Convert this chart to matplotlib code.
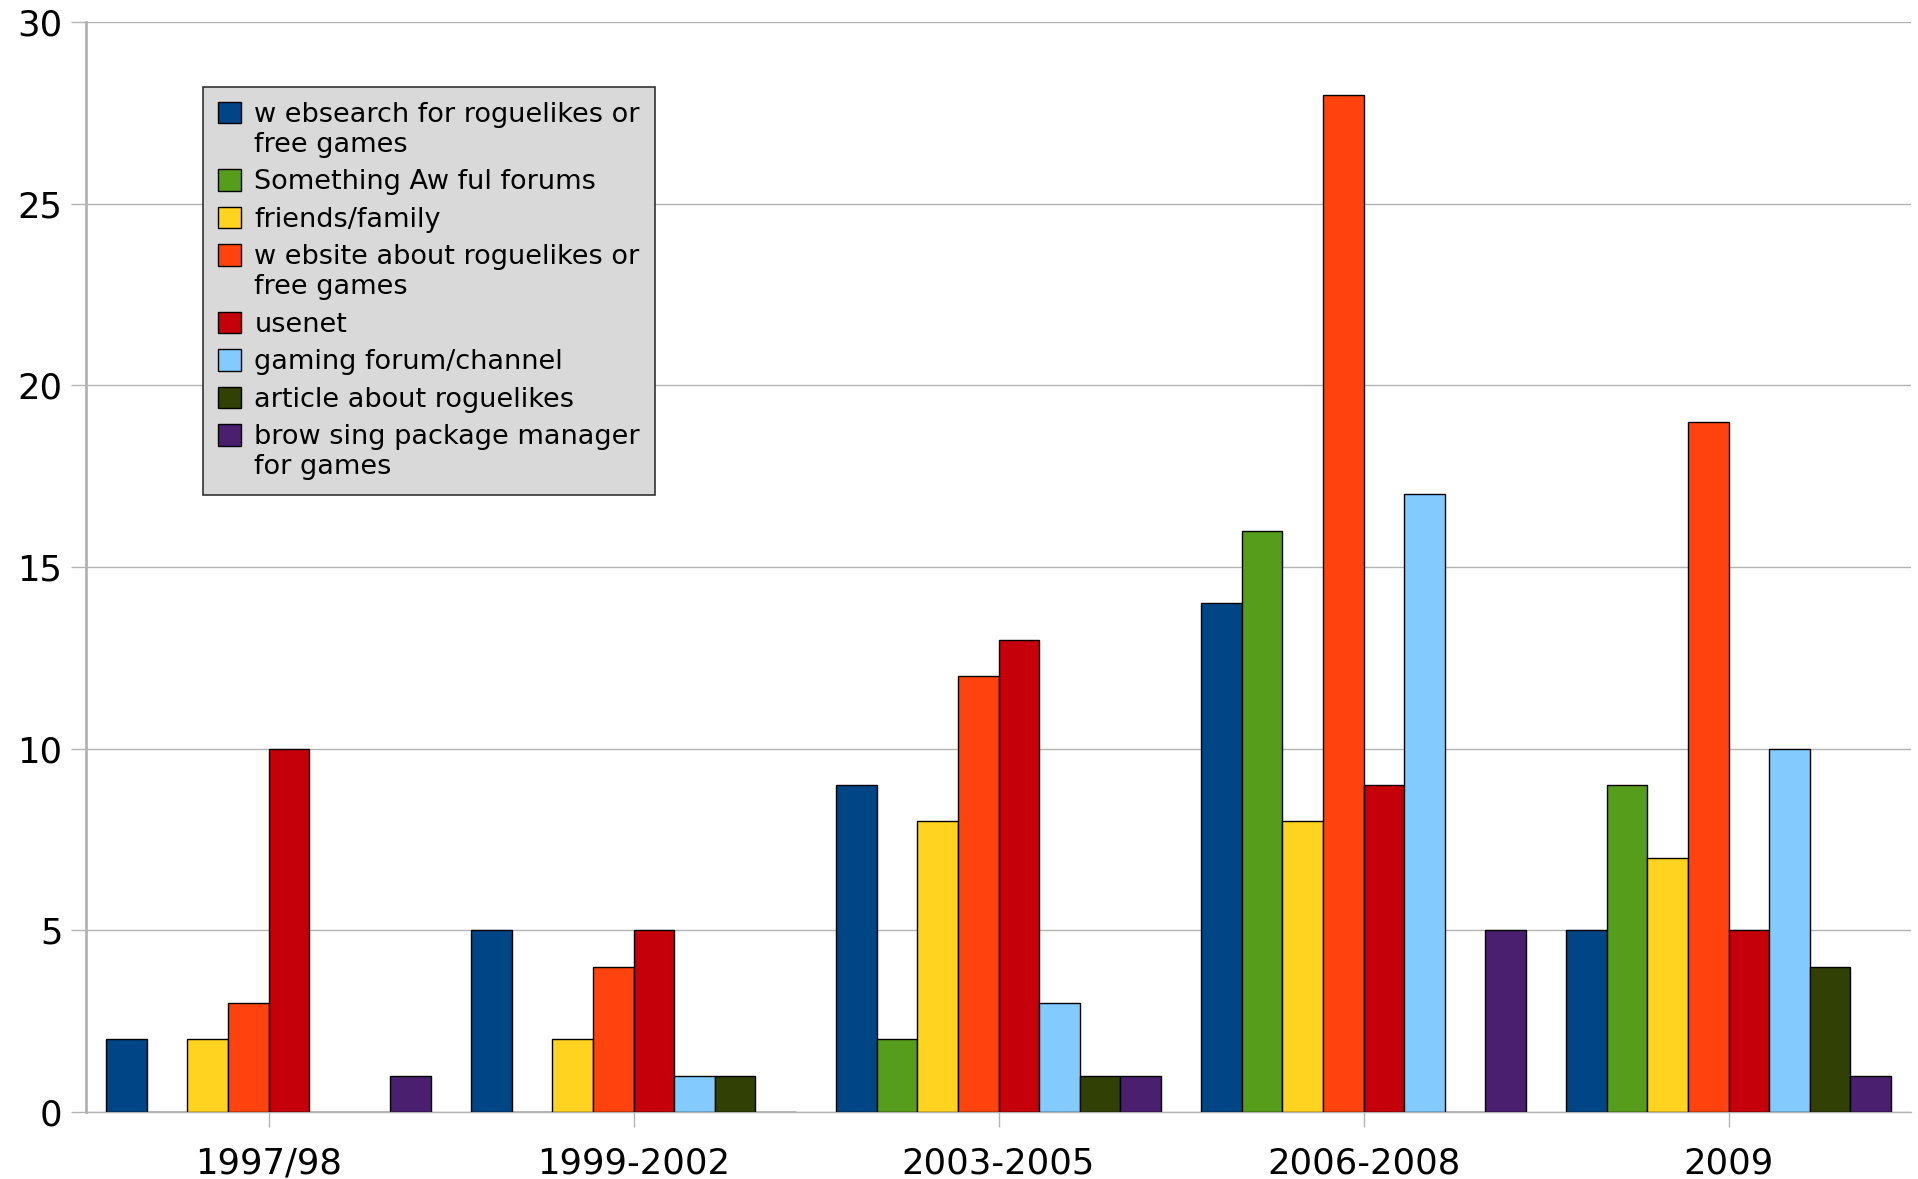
import numpy as np
import matplotlib
matplotlib.use("Agg")
import matplotlib.pyplot as plt
from matplotlib.legend_handler import HandlerPatch, update_from_first_child

# Data
periods = ["1997/98", "1999-2002", "2003-2005", "2006-2008", "2009"]
sources = [
    "w ebsearch for roguelikes or\nfree games",
    "Something Aw ful forums",
    "friends/family",
    "w ebsite about roguelikes or\nfree games",
    "usenet",
    "gaming forum/channel",
    "article about roguelikes",
    "brow sing package manager\nfor games",
]
websearch = [2, 5, 9, 14, 5]
something_awful = [0, 0, 2, 16, 9]
friends = [2, 2, 8, 8, 7]
website = [3, 4, 12, 28, 19]
usenet = [10, 5, 13, 9, 5]
gaming_forum = [0, 1, 3, 17, 10]
article = [0, 1, 1, 0, 4]
package_manager = [1, 0, 1, 5, 1]

colors = ["#004586", "#579d1c", "#ffd320", "#ff420e",
          "#c5000b", "#83caff", "#314004", "#4b1f6f"]

series = [websearch, something_awful, friends, website,
          usenet, gaming_forum, article, package_manager]


class TopPatch(HandlerPatch):
    # keep the legend square level with the first line of a wrapped label
    def __init__(self, extra_lines, **kw):
        super().__init__(update_func=update_from_first_child, **kw)
        self.extra_lines = extra_lines

    def create_artists(self, legend, orig_handle, xdescent, ydescent,
                       width, height, fontsize, trans):
        arts = super().create_artists(legend, orig_handle, xdescent, ydescent,
                                      width, height, fontsize, trans)
        for a in arts:
            a.set_y(a.get_y() + self.extra_lines * 0.67 * fontsize)
        return arts


fig = plt.figure(figsize=(19.18, 11.79), dpi=100)
ax = fig.add_axes([86 / 1918, 1 - 1112 / 1179, 1825 / 1918, 1090 / 1179])

x = np.arange(len(periods)) + 0.5
width = 1 / 9
handles = []
for i, (vals, col, lab) in enumerate(zip(series, colors, sources)):
    offs = (i - 3.5) * width
    b = ax.bar(x + offs, vals, width, color=col, edgecolor="black",
               linewidth=1.0, label=lab, zorder=3)
    handles.append(b)

ax.set_xlim(0, 5)
ax.set_ylim(0, 30)
ax.set_yticks(range(0, 31, 5))
ax.set_xticks(x)
ax.set_xticklabels(periods)
ax.yaxis.grid(True, color="#b3b3b3", linewidth=1, zorder=0)
ax.set_axisbelow(True)

for s in ["top", "right"]:
    ax.spines[s].set_visible(False)
ax.spines["left"].set_color("#b3b3b3")
ax.spines["left"].set_linewidth(2)
ax.spines["bottom"].set_color("#b3b3b3")
ax.spines["bottom"].set_linewidth(1)
ax.tick_params(axis="both", length=11, color="#b3b3b3", width=1,
               labelsize=25.5, pad=6)
ax.tick_params(axis="x", pad=14)

hmap = {h: TopPatch(lab.count("\n")) for h, lab in zip(handles, sources)}
leg = ax.legend(handles, sources, handler_map=hmap,
                loc="upper left", bbox_to_anchor=(0.0641, 0.9404),
                borderaxespad=0, fontsize=19.5, frameon=True, fancybox=False,
                handlelength=0.85, handleheight=0.85, handletextpad=0.5,
                labelspacing=0.42, borderpad=0.55)
frame = leg.get_frame()
frame.set_facecolor("#d9d9d9")
frame.set_edgecolor("#333333")
frame.set_linewidth(1.2)
frame.set_alpha(1)

fig.savefig("out.png", dpi=100)
